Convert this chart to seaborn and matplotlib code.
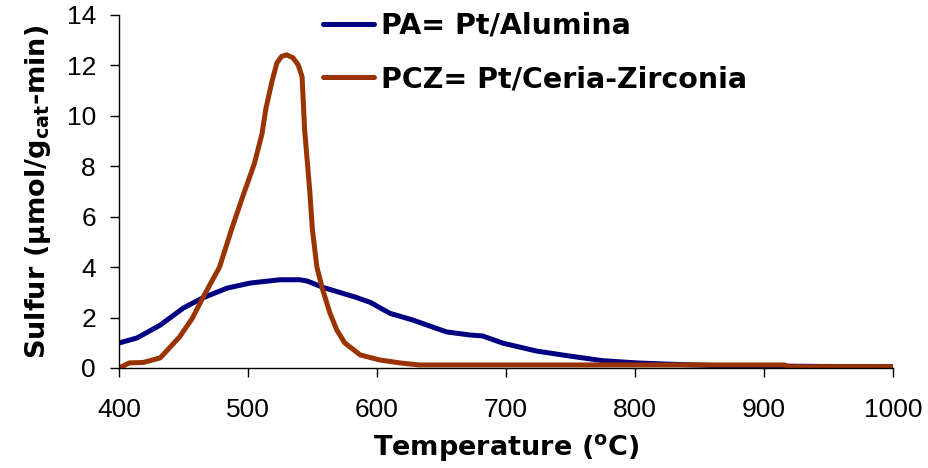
import matplotlib
matplotlib.use("Agg")
import matplotlib.pyplot as plt
import seaborn as sns
import pandas as pd

# Sulfur release profiles during temperature-programmed desorption
pa_temp = [400, 414, 432, 450, 465, 484, 502, 525, 540, 546, 558, 584, 595, 610,
           628, 654, 672, 682, 698, 724, 750, 775, 802, 827, 860, 900, 950, 1000]
pa_sulfur = [0.99, 1.19, 1.7, 2.38, 2.78, 3.17, 3.37, 3.5, 3.5, 3.45, 3.2, 2.8, 2.6, 2.17,
             1.9, 1.43, 1.31, 1.27, 0.98, 0.67, 0.47, 0.29, 0.2, 0.15, 0.1, 0.08, 0.06, 0.05]

pcz_temp = [402, 408, 419, 432, 447, 457, 465, 478, 488, 496, 505, 511, 514, 519,
            522.5, 526, 530, 535, 539, 542, 544, 548, 550, 553.5, 558, 563.6, 569, 575,
            587, 602, 618, 633, 672, 916, 920, 1000]
pcz_sulfur = [0.05, 0.2, 0.22, 0.4, 1.23, 1.98, 2.78, 4.0, 5.6, 6.8, 8.1, 9.3, 10.3, 11.43,
              12.1, 12.35, 12.42, 12.3, 12.02, 11.55, 9.44, 7.0, 5.5, 4.0, 3.1, 2.18, 1.5, 1.0,
              0.52, 0.32, 0.2, 0.12, 0.12, 0.12, 0.05, 0.05]

series_names = ["PA= Pt/Alumina", "PCZ= Pt/Ceria-Zirconia"]
series_colors = ["#000080", "#993300"]

df = pd.concat([
    pd.DataFrame({"T": pa_temp, "S": pa_sulfur, "sample": series_names[0]}),
    pd.DataFrame({"T": pcz_temp, "S": pcz_sulfur, "sample": series_names[1]}),
], ignore_index=True)

sns.set_theme(style="ticks")
plt.rcParams["font.family"] = ["Liberation Sans", "DejaVu Sans"]
plt.rcParams["text.color"] = "black"
plt.rcParams["axes.labelcolor"] = "black"
plt.rcParams["mathtext.fontset"] = "dejavusans"

label_font = {"family": "DejaVu Sans", "weight": "bold", "size": 19.5}

fig = plt.figure(figsize=(9.29, 4.68), dpi=100)
ax = fig.add_axes([0.128, 0.2137, 0.833, 0.7543])

sns.lineplot(data=df, x="T", y="S", hue="sample", palette=series_colors,
             hue_order=series_names, linewidth=3.6, ax=ax, sort=False,
             estimator=None)

ax.set_xlim(400, 1000)
ax.set_ylim(0, 14)
ax.set_xticks(range(400, 1001, 100))
ax.set_yticks(range(0, 15, 2))
ax.tick_params(axis="both", direction="out", length=6.5, width=1, color="black",
               labelsize=19, labelcolor="black")
ax.tick_params(axis="y", pad=10)
ax.tick_params(axis="x", pad=15)
for side in ["left", "bottom"]:
    ax.spines[side].set_color("black")
    ax.spines[side].set_linewidth(1)
sns.despine(ax=ax)

ax.set_xlabel(r"Temperature ($\mathbf{^{o}}$C)", fontdict=label_font, labelpad=7)
ax.set_ylabel(r"Sulfur ($\mathbf{\mu}$mol/g$\mathbf{_{cat}}$-min)", fontdict=label_font,
              labelpad=10)

leg = ax.legend(loc="upper left", bbox_to_anchor=(0.32, 1.03),
                bbox_transform=fig.transFigure, frameon=False,
                prop={"family": "DejaVu Sans", "weight": "bold", "size": 20.5},
                handlelength=1.8, handletextpad=0.25, labelspacing=0.9)
for line in leg.get_lines():
    line.set_linewidth(3.6)

fig.savefig("out.png", dpi=100)
